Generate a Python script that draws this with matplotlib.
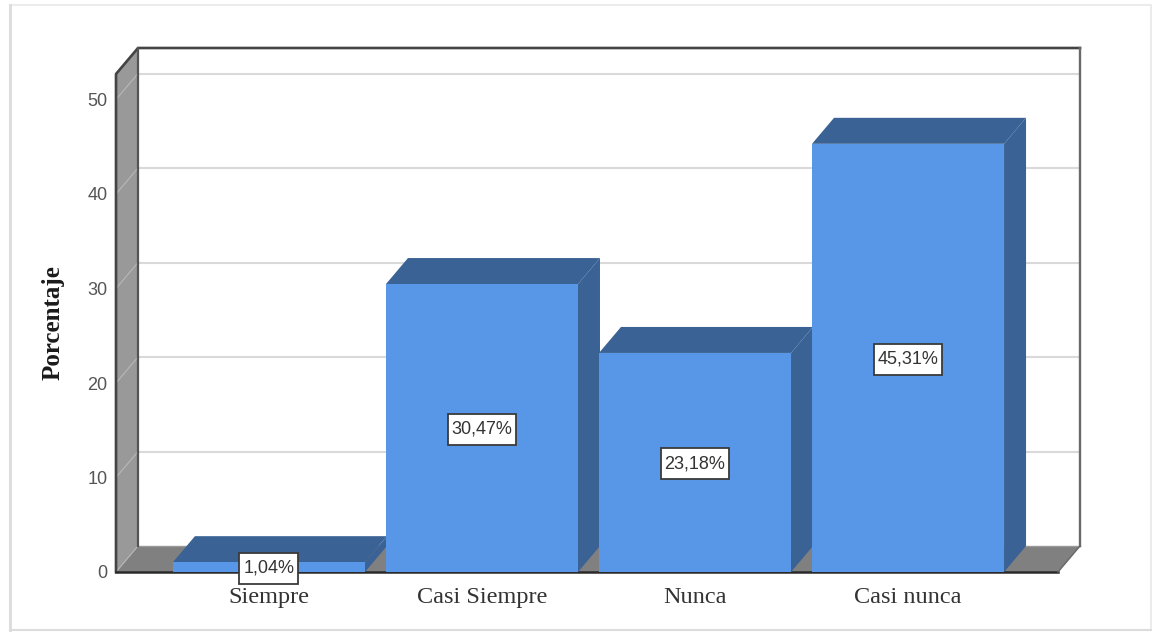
import matplotlib
matplotlib.use('Agg')
import matplotlib.pyplot as plt
from matplotlib.patches import Polygon, Rectangle
from matplotlib.path import Path

categories = ['Siempre', 'Casi Siempre', 'Nunca', 'Casi nunca']
values = [1.04, 30.47, 23.18, 45.31]
labels = ['1,04%', '30,47%', '23,18%', '45,31%']
yticks = [0, 10, 20, 30, 40, 50]

W, H = 1152, 632
blue = '#5897E8'
dark = '#3A6295'

fig = plt.figure(figsize=(W / 100, H / 100), dpi=100)

# soft frame of the screenshot
fig.patches.append(Rectangle((10 / W, 1 - 630 / H), 1141 / W, 625 / H, transform=fig.transFigure,
                             fc='none', ec='#ececec', lw=1.5))
fig.add_artist(plt.Line2D([10 / W, 10 / W], [1 - 630 / H, 1 - 5 / H], color='#dcdcdc', lw=2))
fig.add_artist(plt.Line2D([10 / W, 1151 / W], [1 - 630 / H, 1 - 630 / H], color='#dcdcdc', lw=1.5))

# axes = front plane of the 3d box
left, right, bottom, top = 116, 1058, 572, 74
ax = fig.add_axes([left / W, 1 - bottom / H, (right - left) / W, (bottom - top) / H])
ax.set_xlim(-0.718, 3.704)
ax.set_ylim(0, 498 / 9.45)
ax.patch.set_visible(False)
for s in ax.spines.values():
    s.set_visible(False)

x0, x1 = ax.get_xlim()
y0, y1 = ax.get_ylim()
dx = 22 / 213
dy = 26 / 9.45
bw = 192 / 213


def poly(pts, fc, z=2):
    ax.add_patch(Polygon(pts, closed=True, fc=fc, ec='none', lw=0, zorder=z, clip_on=False))


def label_box(x, y, w, h, size):
    # box is taller than the text, pad differs per direction
    px, py = 4, 7
    a, b, c, d = x - px, y - py, x + w + px, y + h + py
    return Path([(a, b), (c, b), (c, d), (a, d), (a, b)], closed=True)


# back wall, left wall, floor
poly([(x0 + dx, dy), (x1 + dx, dy), (x1 + dx, y1 + dy), (x0 + dx, y1 + dy)], 'white', z=1)
poly([(x0, y0), (x0 + dx, dy), (x0 + dx, y1 + dy), (x0, y1)], '#999999', z=2)
poly([(x0, y0), (x0 + dx, dy), (x1 + dx, dy), (x1, y0)], '#808080', z=2)

for t in yticks[1:]:
    ax.plot([x0 + dx, x1 + dx], [t + dy, t + dy], color='#d9d9d9', lw=1.5, zorder=1.5, clip_on=False)
for t in yticks:
    ax.plot([x0, x0 + dx], [t, t + dy], color='#b8b8b8', lw=0.8, zorder=2.5, clip_on=False)

# outlines
ax.plot([x0, x0, x0 + dx, x1 + dx], [y0, y1, y1 + dy, y1 + dy], color='#444444', lw=1.9, zorder=3, clip_on=False)
ax.plot([x0 + dx, x0 + dx], [dy, y1 + dy], color='#555555', lw=1.6, zorder=3, clip_on=False)
ax.plot([x1 + dx, x1 + dx], [dy, y1 + dy], color='#6a6a6a', lw=1.7, zorder=3, clip_on=False)
ax.plot([x0 + dx, x1 + dx], [dy, dy], color='#999999', lw=1, zorder=2.2, clip_on=False)
ax.plot([x0, x1], [0, 0], color='#2a2a2a', lw=1.8, zorder=3, clip_on=False)
ax.plot([x1, x1 + dx], [0, dy], color='#666666', lw=1, zorder=3, clip_on=False)

# bars, drawn left to right so each covers the side of the previous one
for i, v in enumerate(values):
    a, b = i - bw / 2, i + bw / 2
    z = 4 + i
    poly([(b, 0), (b + dx, dy), (b + dx, v + dy), (b, v)], dark, z=z)
    poly([(a, v), (a + dx, v + dy), (b + dx, v + dy), (b, v)], dark, z=z)
    poly([(a, 0), (b, 0), (b, v), (a, v)], blue, z=z)

for i, v in enumerate(values):
    ax.annotate(labels[i], (i, v / 2), xytext=(0, -1), textcoords='offset points', ha='center', va='center',
                fontsize=13, family='Liberation Sans', color='#333333', zorder=20,
                bbox=dict(boxstyle=label_box, fc='white', ec='#3a3a3a', lw=1.3))

ax.set_xticks(range(len(categories)))
ax.set_xticklabels(categories, family='Liberation Serif', fontsize=17.5, color='#333333')
ax.set_yticks(yticks)
ax.set_yticklabels([str(t) for t in yticks], family='Liberation Sans', fontsize=13, color='#555555')
ax.tick_params(axis='x', length=0, pad=11)
ax.tick_params(axis='y', length=0, pad=6)

fig.text(53 / W, 1 - 323 / H, 'Porcentaje', rotation=90, ha='center', va='center',
         family='Liberation Serif', fontweight='bold', fontsize=18, color='#1a1a1a')

fig.savefig('out.png', dpi=100, facecolor='white')
